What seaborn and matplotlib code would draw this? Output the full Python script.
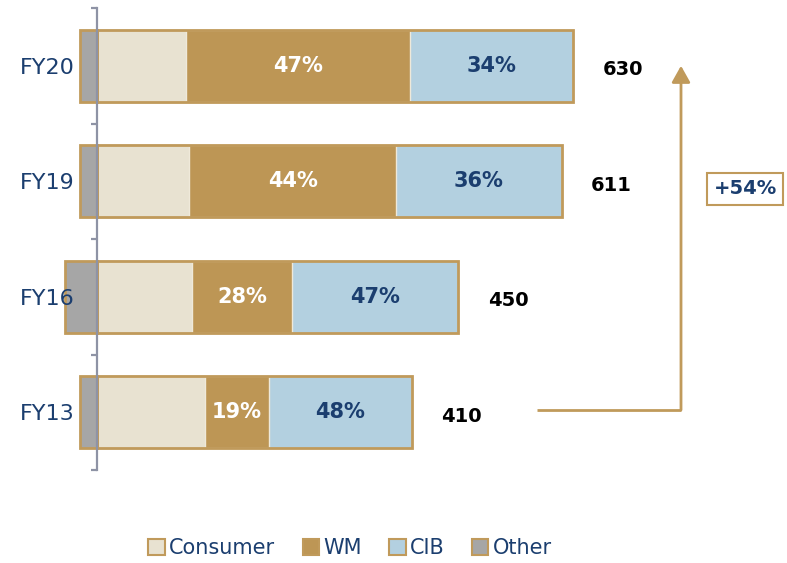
import pandas as pd
import matplotlib.pyplot as plt
import seaborn as sns
from matplotlib.patches import Patch

# Style
sns.set_style("white")
plt.rcParams['font.family'] = ['DejaVu Sans']

# ---------------- DATA ----------------
years = ["FY20", "FY19", "FY16", "FY13"]
consumer = [113, 117, 121, 137]
wm = [284, 263, 127, 81]
cib = [208, 210, 211, 182]
other = [22, 22, 41, 22]
wm_pct = ["47%", "44%", "28%", "19%"]
cib_pct = ["34%", "36%", "47%", "48%"]
totals = [630, 611, 450, 410]
growth = "+54%"
segments = ["Consumer", "WM", "CIB", "Other"]

# Colours
CONS = "#e8e2d1"
WM = "#bd9655"
CIB = "#b3d0e0"
OTHER = "#a6a6a6"
GOLD = "#c09a5b"
SEP = "#efe9da"
NAVY = "#1b3e6f"
AXIS = "#8e93a5"

df = pd.DataFrame({"year": years, "consumer": consumer, "wm": wm,
                   "cib": cib, "other": other})
df["c_wm"] = df["consumer"] + df["wm"]
df["c_wm_cib"] = df["c_wm"] + df["cib"]
df["neg_other"] = -df["other"]

# ---------------- PLOT ----------------
fig = plt.figure(figsize=(7.87, 5.63), dpi=100)
ax = fig.add_axes([0, 1 - 470 / 563, 1, 462 / 563])

bar_w = 0.62
common = dict(data=df, y="year", orient="h", width=bar_w, errorbar=None,
              saturation=1, ax=ax)
sns.barplot(x="c_wm_cib", color=CIB, edgecolor=SEP, linewidth=1, **common)
sns.barplot(x="c_wm", color=WM, edgecolor=SEP, linewidth=1, **common)
sns.barplot(x="consumer", color=CONS, edgecolor=SEP, linewidth=1, **common)
sns.barplot(x="neg_other", color=OTHER, linewidth=0, **common)
# gold outline round each bar
sns.barplot(x="c_wm_cib", color=GOLD, fill=False, linewidth=2, **common)
sns.barplot(x="neg_other", color=GOLD, fill=False, linewidth=2, **common)

scale = 1.27  # data units per pixel
ax.set_xlim(-97 * scale, 690 * scale)
ax.set_ylim(3.5, -0.5)
ax.set_xlabel("")
ax.set_ylabel("")
ax.set_xticks([])
ax.set_axisbelow(False)

for s in ["top", "right", "bottom"]:
    ax.spines[s].set_visible(False)
ax.spines["left"].set_position(("data", 0))
ax.spines["left"].set_color(AXIS)
ax.spines["left"].set_linewidth(1.6)
ax.spines["left"].set_zorder(5)

ax.set_yticks(range(len(years)))
ax.set_yticklabels(years)
ax.set_yticks([-0.5, 0.5, 1.5, 2.5, 3.5], minor=True)
ax.tick_params(axis="y", which="major", left=False, length=0, pad=16,
               labelsize=16, labelcolor=NAVY)
ax.tick_params(axis="y", which="minor", left=True, length=4.5, width=1.6,
               color=AXIS, direction="out")

# segment labels and totals
for i in range(len(years)):
    ax.text(consumer[i] + wm[i] / 2, i, wm_pct[i], ha="center", va="center",
            color="white", fontsize=15, fontweight="bold")
    ax.text(df["c_wm"][i] + cib[i] / 2, i, cib_pct[i], ha="center",
            va="center", color=NAVY, fontsize=15, fontweight="bold")
    ax.annotate(str(totals[i]), xy=(df["c_wm_cib"][i], i), xytext=(21, -3),
                textcoords="offset points", ha="left", va="center",
                fontsize=14, fontweight="bold", color="black")

# growth arrow
tr = ax.get_yaxis_transform()
ax.plot([537 / 787, 681 / 787], [2.98, 2.98], color=GOLD, lw=2,
        transform=tr, solid_capstyle="butt")
ax.annotate("", xy=(681 / 787, 0.0), xytext=(681 / 787, 2.98),
            xycoords=tr, textcoords=tr,
            arrowprops=dict(arrowstyle="-|>,head_length=0.5,head_width=0.28",
                            mutation_scale=20, color=GOLD, lw=2,
                            shrinkA=0, shrinkB=0))
fig.text(745 / 787, 1 - 189 / 563, growth, ha="center", va="center",
         fontsize=14, fontweight="bold", color=NAVY,
         bbox=dict(boxstyle="square,pad=0.35", fc="white", ec=GOLD, lw=1.5))

# legend
handles = [Patch(facecolor=c, edgecolor=GOLD, linewidth=1.5)
           for c in [CONS, WM, CIB, OTHER]]
fig.legend(handles, segments, loc="center",
           bbox_to_anchor=(350 / 787, 1 - 548 / 563), ncol=4, frameon=False,
           fontsize=15, labelcolor=NAVY, handlelength=0.8, handleheight=0.8,
           handletextpad=0.2, columnspacing=1.3)

fig.savefig("out.png", dpi=100)
